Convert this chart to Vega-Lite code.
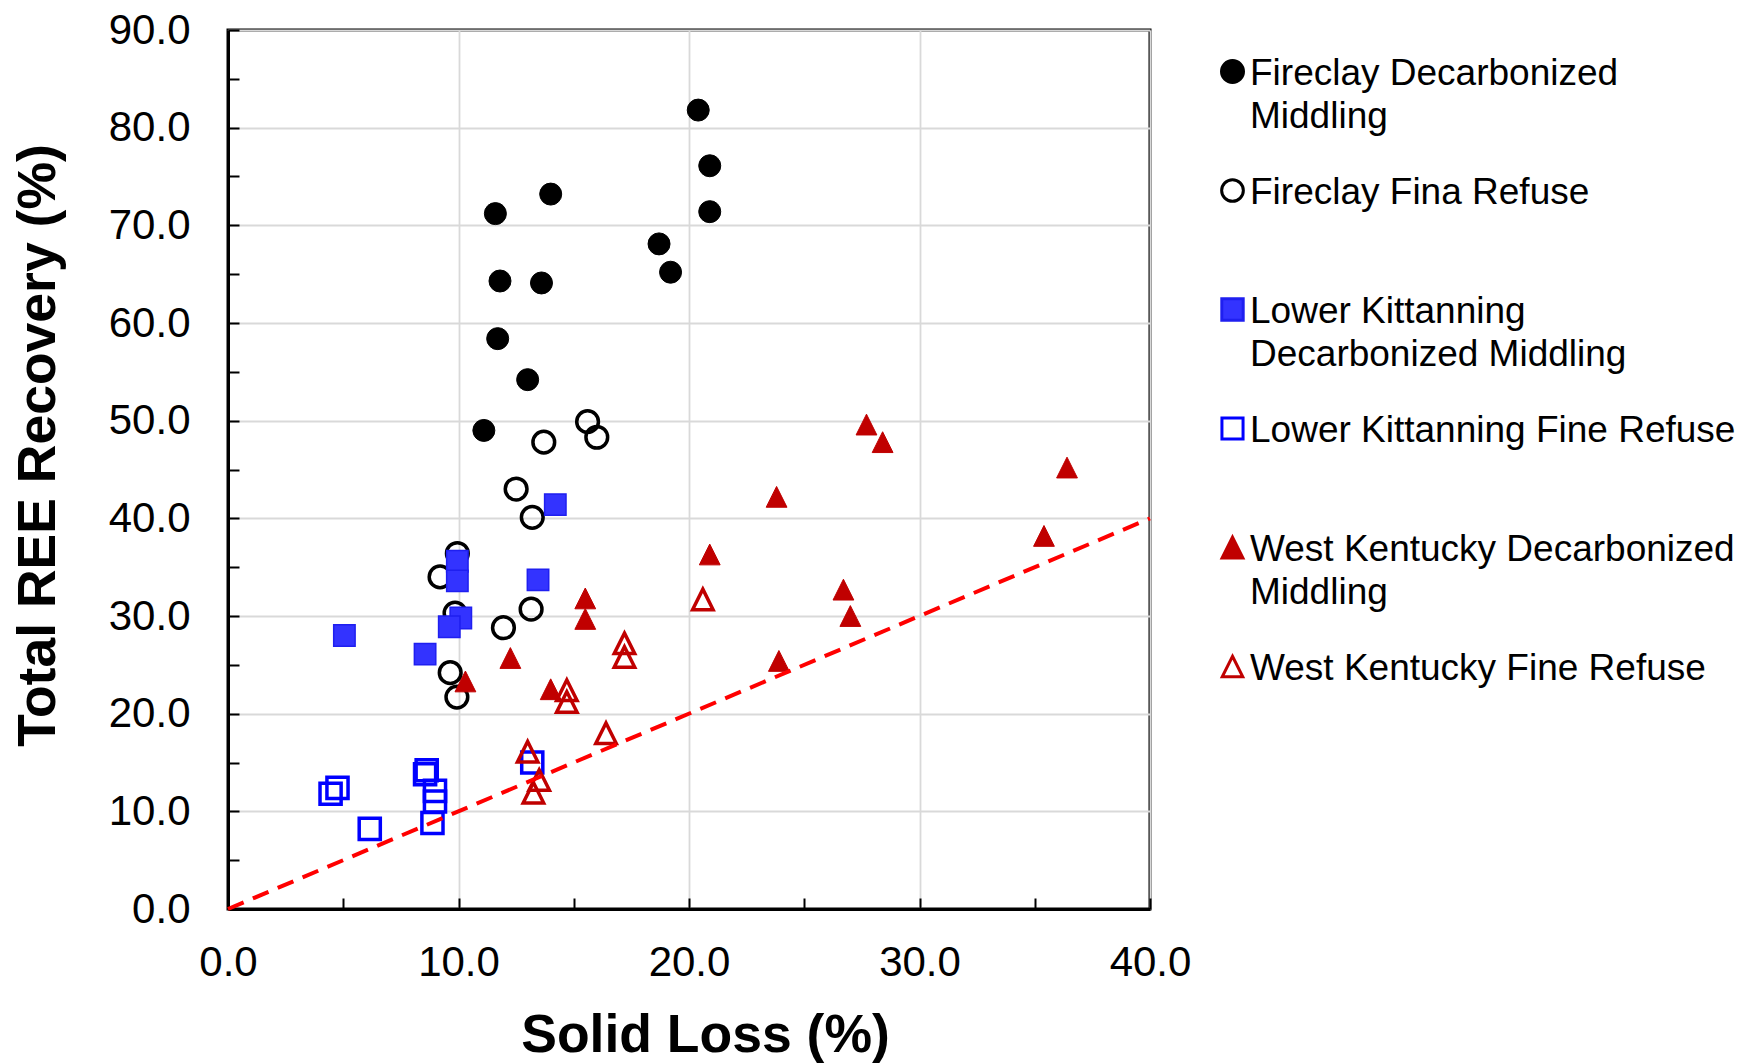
{
  "$schema": "https://vega.github.io/schema/vega-lite/v6.json",
  "width": 922,
  "height": 879,
  "autosize": {"type": "none"},
  "padding": {"left": 228, "top": 30, "right": 611, "bottom": 155},
  "background": "white",
  "view": {"stroke": "#000000", "strokeWidth": 3},
  "config": {
    "font": "Liberation Sans",
    "view": {"stroke": "#000000", "strokeWidth": 3},
    "style": {"guide-label": {"dy": 13, "lineHeight": 43}},
    "axis": {
      "domainColor": "#000000",
      "domainWidth": 3,
      "tickColor": "#000000",
      "tickWidth": 2,
      "tickSize": -11,
      "gridColor": "#D9D9D9",
      "gridWidth": 1.8,
      "labelFont": "Liberation Sans",
      "labelFontSize": 42,
      "labelColor": "#000000",
      "titleFont": "Liberation Sans",
      "titleFontSize": 53.5,
      "titleFontWeight": "bold",
      "titleColor": "#000000"
    }
  },
  "datasets": {
    "pts": [
      {"series": "Fireclay Decarbonized Middling", "x": 20.4, "y": 81.8},
      {"series": "Fireclay Decarbonized Middling", "x": 20.9, "y": 76.1},
      {"series": "Fireclay Decarbonized Middling", "x": 20.9, "y": 71.4},
      {"series": "Fireclay Decarbonized Middling", "x": 14.0, "y": 73.2},
      {"series": "Fireclay Decarbonized Middling", "x": 11.6, "y": 71.2},
      {"series": "Fireclay Decarbonized Middling", "x": 18.7, "y": 68.1},
      {"series": "Fireclay Decarbonized Middling", "x": 19.2, "y": 65.2},
      {"series": "Fireclay Decarbonized Middling", "x": 11.8, "y": 64.3},
      {"series": "Fireclay Decarbonized Middling", "x": 13.6, "y": 64.1},
      {"series": "Fireclay Decarbonized Middling", "x": 11.7, "y": 58.4},
      {"series": "Fireclay Decarbonized Middling", "x": 13.0, "y": 54.2},
      {"series": "Fireclay Decarbonized Middling", "x": 11.1, "y": 49.0},
      {"series": "Fireclay Fina Refuse", "x": 15.6, "y": 49.9},
      {"series": "Fireclay Fina Refuse", "x": 16.0, "y": 48.3},
      {"series": "Fireclay Fina Refuse", "x": 13.7, "y": 47.8},
      {"series": "Fireclay Fina Refuse", "x": 12.5, "y": 43.0},
      {"series": "Fireclay Fina Refuse", "x": 13.2, "y": 40.1},
      {"series": "Fireclay Fina Refuse", "x": 9.95, "y": 36.4},
      {"series": "Fireclay Fina Refuse", "x": 9.2, "y": 34.0},
      {"series": "Fireclay Fina Refuse", "x": 9.85, "y": 30.3},
      {"series": "Fireclay Fina Refuse", "x": 13.15, "y": 30.7},
      {"series": "Fireclay Fina Refuse", "x": 11.95, "y": 28.8},
      {"series": "Fireclay Fina Refuse", "x": 9.64, "y": 24.2},
      {"series": "Fireclay Fina Refuse", "x": 9.93, "y": 21.7},
      {"series": "Lower Kittanning Decarbonized Middling", "x": 14.2, "y": 41.4},
      {"series": "Lower Kittanning Decarbonized Middling", "x": 9.95, "y": 35.6},
      {"series": "Lower Kittanning Decarbonized Middling", "x": 9.95, "y": 33.6},
      {"series": "Lower Kittanning Decarbonized Middling", "x": 13.45, "y": 33.7},
      {"series": "Lower Kittanning Decarbonized Middling", "x": 10.1, "y": 29.8},
      {"series": "Lower Kittanning Decarbonized Middling", "x": 9.6, "y": 28.9},
      {"series": "Lower Kittanning Decarbonized Middling", "x": 8.55, "y": 26.1},
      {"series": "Lower Kittanning Decarbonized Middling", "x": 5.05, "y": 28.0},
      {"series": "Lower Kittanning Fine Refuse", "x": 4.45, "y": 11.8},
      {"series": "Lower Kittanning Fine Refuse", "x": 4.75, "y": 12.4},
      {"series": "Lower Kittanning Fine Refuse", "x": 6.15, "y": 8.2},
      {"series": "Lower Kittanning Fine Refuse", "x": 8.55, "y": 13.8},
      {"series": "Lower Kittanning Fine Refuse", "x": 8.62, "y": 14.2},
      {"series": "Lower Kittanning Fine Refuse", "x": 8.98, "y": 12.1},
      {"series": "Lower Kittanning Fine Refuse", "x": 8.98, "y": 11.0},
      {"series": "Lower Kittanning Fine Refuse", "x": 8.87, "y": 8.8},
      {"series": "Lower Kittanning Fine Refuse", "x": 13.2, "y": 15.0},
      {"series": "West Kentucky Decarbonized Middling", "x": 27.7, "y": 49.6},
      {"series": "West Kentucky Decarbonized Middling", "x": 28.4, "y": 47.8},
      {"series": "West Kentucky Decarbonized Middling", "x": 36.4, "y": 45.2},
      {"series": "West Kentucky Decarbonized Middling", "x": 23.8, "y": 42.2},
      {"series": "West Kentucky Decarbonized Middling", "x": 35.4, "y": 38.2},
      {"series": "West Kentucky Decarbonized Middling", "x": 20.9, "y": 36.3},
      {"series": "West Kentucky Decarbonized Middling", "x": 15.5, "y": 31.8},
      {"series": "West Kentucky Decarbonized Middling", "x": 15.5, "y": 29.7},
      {"series": "West Kentucky Decarbonized Middling", "x": 26.7, "y": 32.7},
      {"series": "West Kentucky Decarbonized Middling", "x": 27.0, "y": 30.0},
      {"series": "West Kentucky Decarbonized Middling", "x": 12.25, "y": 25.7},
      {"series": "West Kentucky Decarbonized Middling", "x": 10.3, "y": 23.3},
      {"series": "West Kentucky Decarbonized Middling", "x": 14.0, "y": 22.5},
      {"series": "West Kentucky Decarbonized Middling", "x": 23.9, "y": 25.4},
      {"series": "West Kentucky Fine Refuse", "x": 20.6, "y": 31.7},
      {"series": "West Kentucky Fine Refuse", "x": 17.2, "y": 27.2},
      {"series": "West Kentucky Fine Refuse", "x": 17.2, "y": 25.8},
      {"series": "West Kentucky Fine Refuse", "x": 14.7, "y": 22.4},
      {"series": "West Kentucky Fine Refuse", "x": 14.7, "y": 21.2},
      {"series": "West Kentucky Fine Refuse", "x": 16.4, "y": 18.0},
      {"series": "West Kentucky Fine Refuse", "x": 13.0, "y": 16.1},
      {"series": "West Kentucky Fine Refuse", "x": 13.5, "y": 13.2},
      {"series": "West Kentucky Fine Refuse", "x": 13.25, "y": 11.9}
    ],
    "diag": [
      {"x": 0, "y": 0},
      {"x": 40, "y": 40}
    ]
  },
  "layer": [
    {
      "data": {"name": "pts"},
      "mark": {"type": "point", "opacity": 1},
      "encoding": {
        "x": {
          "field": "x", "type": "quantitative",
          "scale": {"domain": [0, 40], "nice": false, "zero": false},
          "axis": {
            "title": "Solid Loss (%)",
            "values": [0, 5, 10, 15, 20, 25, 30, 35, 40],
            "labelExpr": "datum.value % 10 === 0 ? format(datum.value, '.1f') : ''",
            "gridOpacity": {"condition": {"test": "datum.value % 10 !== 0", "value": 0}, "value": 1},
            "labelPadding": 31,
            "labelFlush": false,
            "labelOverlap": false,
            "titleX": 477,
            "titleY": 100,
            "titleBaseline": "top"
          }
        },
        "y": {
          "field": "y", "type": "quantitative",
          "scale": {"domain": [0, 90], "nice": false, "zero": false},
          "axis": {
            "title": "Total REE Recovery (%)",
            "values": [0, 5, 10, 15, 20, 25, 30, 35, 40, 45, 50, 55, 60, 65, 70, 75, 80, 85, 90],
            "labelExpr": "datum.value % 10 === 0 ? format(datum.value, '.1f') : ''",
            "gridOpacity": {"condition": {"test": "datum.value % 10 !== 0", "value": 0}, "value": 1},
            "labelPadding": 49,
            "labelOffset": -13,
            "labelFlush": false,
            "labelOverlap": false,
            "titleX": -174,
            "titleY": 415,
            "titleAngle": -90,
            "titleBaseline": "alphabetic",
            "titleAlign": "center"
          }
        },
        "shape": {
          "field": "series", "type": "nominal",
          "scale": {
            "domain": ["Fireclay Decarbonized Middling", "Fireclay Fina Refuse", "Lower Kittanning Decarbonized Middling", "Lower Kittanning Fine Refuse", "West Kentucky Decarbonized Middling", "West Kentucky Fine Refuse"],
            "range": ["circle", "circle", "square", "square", "M0,-1L1,1L-1,1Z", "M0,-1L1,1L-1,1Z"]
          },
          "legend": {
            "title": null,
            "orient": "none",
            "legendX": 986,
            "legendY": 23,
            "padding": 0,
            "labelFont": "Liberation Sans",
            "labelFontSize": 37,
            "labelColor": "#000000",
            "labelLimit": 800,
            "labelOffset": -1,
            "labelBaseline": "alphabetic",
            "rowPadding": 37,
            "symbolOpacity": 1,
            "symbolStrokeWidth": 3,
            "labelExpr": "datum.label === 'Fireclay Decarbonized Middling' ? ['Fireclay Decarbonized', 'Middling'] : datum.label === 'Lower Kittanning Decarbonized Middling' ? ['Lower Kittanning', 'Decarbonized Middling'] : datum.label === 'West Kentucky Decarbonized Middling' ? ['West Kentucky Decarbonized', 'Middling'] : [datum.label, ' ']"
          }
        },
        "fill": {
          "field": "series", "type": "nominal",
          "scale": {
            "domain": ["Fireclay Decarbonized Middling", "Fireclay Fina Refuse", "Lower Kittanning Decarbonized Middling", "Lower Kittanning Fine Refuse", "West Kentucky Decarbonized Middling", "West Kentucky Fine Refuse"],
            "range": ["#000000", "transparent", "#3333FF", "transparent", "#C00000", "transparent"]
          }
        },
        "stroke": {
          "field": "series", "type": "nominal",
          "scale": {
            "domain": ["Fireclay Decarbonized Middling", "Fireclay Fina Refuse", "Lower Kittanning Decarbonized Middling", "Lower Kittanning Fine Refuse", "West Kentucky Decarbonized Middling", "West Kentucky Fine Refuse"],
            "range": ["#000000", "#000000", "#1F1FF0", "#0000FF", "#C00000", "#C00000"]
          }
        },
        "size": {
          "field": "series", "type": "nominal",
          "scale": {
            "domain": ["Fireclay Decarbonized Middling", "Fireclay Fina Refuse", "Lower Kittanning Decarbonized Middling", "Lower Kittanning Fine Refuse", "West Kentucky Decarbonized Middling", "West Kentucky Fine Refuse"],
            "range": [484, 420, 441, 272, 840, 650]
          }
        },
        "strokeWidth": {
          "condition": [
            {"test": "indexof(datum.series, 'Refuse') >= 0", "value": 3.5},
            {"test": "datum.series === 'Lower Kittanning Decarbonized Middling'", "value": 1.5}
          ],
          "value": 1
        }
      }
    },
    {
      "data": {"name": "diag"},
      "mark": {"type": "line", "color": "#FF0000", "strokeWidth": 4, "strokeDash": [17, 10]},
      "encoding": {
        "x": {"field": "x", "type": "quantitative"},
        "y": {"field": "y", "type": "quantitative"}
      }
    }
  ]
}
